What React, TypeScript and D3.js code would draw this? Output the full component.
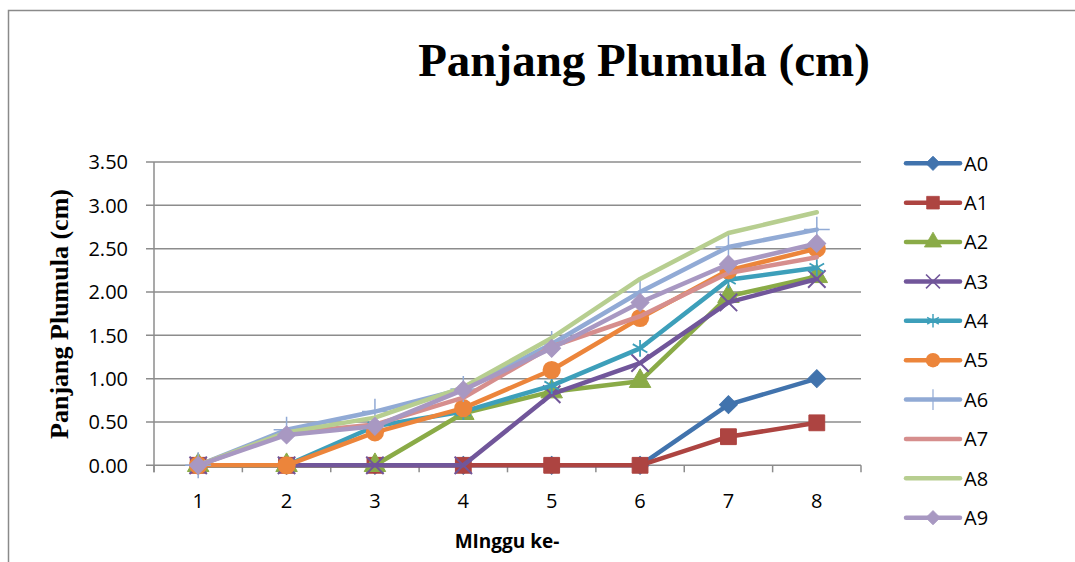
import * as d3 from 'd3';

const weeks = ['1', '2', '3', '4', '5', '6', '7', '8'];
const seriesNames = ['A0', 'A1', 'A2', 'A3', 'A4', 'A5', 'A6', 'A7', 'A8', 'A9'];
const A0 = [0, 0, 0, 0, 0, 0, 0.7, 1.0];
const A1 = [0, 0, 0, 0, 0, 0, 0.33, 0.49];
const A2 = [0, 0, 0, 0.6, 0.85, 0.97, 1.95, 2.18];
const A3 = [0, 0, 0, 0, 0.82, 1.18, 1.88, 2.15];
const A4 = [0, 0, 0.45, 0.62, 0.92, 1.35, 2.14, 2.28];
const A5 = [0, 0, 0.38, 0.66, 1.1, 1.7, 2.25, 2.5];
const A6 = [0, 0.41, 0.62, 0.88, 1.4, 2.0, 2.52, 2.72];
const A7 = [0, 0.37, 0.47, 0.78, 1.37, 1.72, 2.22, 2.4];
const A8 = [0, 0.38, 0.55, 0.9, 1.47, 2.15, 2.68, 2.92];
const A9 = [0, 0.35, 0.45, 0.87, 1.35, 1.88, 2.32, 2.56];
const yTicks = [0, 0.5, 1, 1.5, 2, 2.5, 3, 3.5];

const values = [A0, A1, A2, A3, A4, A5, A6, A7, A8, A9];
const colors = ['#4173ad', '#ad4441', '#8aab47', '#71569a', '#3d9fba', '#ec853b', '#91aad5', '#d68e8d', '#b7ce90', '#a898c2'];
const markers = ['diamond', 'square', 'triangle', 'x', 'asterisk', 'circle', 'plus', 'none', 'none', 'diamond'];

const W = 1075;
const H = 562;
const left = 154;
const right = 861;
const top = 162;
const bottom = 465.3;

const sans = '"Open Sans", "Noto Sans", sans-serif';
const serif = '"Liberation Serif", "DejaVu Serif", serif';

function Marker({ kind, color, x, y, scale = 1 }: { kind: string; color: string; x: number; y: number; scale?: number }) {
  const t = `translate(${x},${y}) scale(${scale})`;
  if (kind === 'diamond') {
    return <path transform={t + ' rotate(45)'} d={d3.symbol(d3.symbolSquare, 160)()!} fill={color} stroke={color} strokeWidth={1} />;
  }
  if (kind === 'square') {
    return <path transform={t} d={d3.symbol(d3.symbolSquare, 250)()!} fill={color} stroke={color} strokeWidth={1} />;
  }
  if (kind === 'triangle') {
    return <path transform={t} d={d3.symbol(d3.symbolTriangle, 200)()!} fill={color} stroke={color} strokeWidth={1} />;
  }
  if (kind === 'circle') {
    return <path transform={t} d={d3.symbol(d3.symbolCircle, 260)()!} fill={color} />;
  }
  if (kind === 'x') {
    return <path transform={t} d={d3.symbol(d3.symbolX, 200)()!} fill="none" stroke={color} strokeWidth={2} />;
  }
  if (kind === 'asterisk') {
    return <path transform={t} d={d3.symbol(d3.symbolAsterisk, 200)()!} fill="none" stroke={color} strokeWidth={1.8} />;
  }
  if (kind === 'plus') {
    return <path transform={t} d={d3.symbol(d3.symbolPlus, 220)()!} fill="none" stroke={color} strokeWidth={1.5} />;
  }
  return null;
}

export default function App() {
  const x = d3.scaleBand<string>().domain(weeks).range([left, right]);
  const y = d3.scaleLinear().domain([0, 3.5]).range([bottom, top]);
  const cx = (w: string) => (x(w) ?? 0) + x.bandwidth() / 2;
  const line = d3
    .line<number>()
    .x((_, i) => cx(weeks[i]))
    .y((d) => y(d));

  const bounds = [...weeks.map((w) => x(w) ?? 0), right];
  const legendY = d3.scalePoint<string>().domain(seriesNames).range([163.3, 517.7]);

  return (
    <>
      <style>{'body{margin:0}'}</style>
      <svg width={W} height={H} style={{ display: 'block', background: '#fff' }}>
        <path d={`M8.5,${H + 5}V10.5H${W + 5}`} fill="none" stroke="#8a8a8a" strokeWidth={1.5} />

        <text x={644} y={76} textAnchor="middle" fontFamily={serif} fontWeight="bold" fontSize={47}>
          Panjang Plumula (cm)
        </text>

        {yTicks.map((t) => (
          <g key={t}>
            <line x1={146} x2={right} y1={y(t)} y2={y(t)} stroke="#8c8c8c" strokeWidth={1.5} />
            <text x={128} y={y(t)} dy="0.36em" textAnchor="end" fontFamily={sans} fontSize={20}>
              {t.toFixed(2)}
            </text>
          </g>
        ))}
        <line x1={left} x2={left} y1={top} y2={bottom + 7} stroke="#8c8c8c" strokeWidth={1.5} />
        {bounds.map((b, i) => (
          <line key={i} x1={b} x2={b} y1={bottom} y2={bottom + 7} stroke="#8c8c8c" strokeWidth={1.5} />
        ))}
        {weeks.map((w) => (
          <text key={w} x={cx(w)} y={508} textAnchor="middle" fontFamily={sans} fontSize={20}>
            {w}
          </text>
        ))}

        <text x={507} y={548} textAnchor="middle" fontFamily={sans} fontWeight="bold" fontSize={19}>
          MInggu ke-
        </text>
        <text
          transform={`translate(68,314) rotate(-90)`}
          textAnchor="middle"
          fontFamily={serif}
          fontWeight="bold"
          fontSize={26}
        >
          Panjang Plumula (cm)
        </text>

        {values.map((vals, s) => (
          <g key={seriesNames[s]}>
            <path d={line(vals)!} fill="none" stroke={colors[s]} strokeWidth={4.5} strokeLinejoin="round" strokeLinecap="round" />
            {vals.map((v, i) => (
              <Marker key={i} kind={markers[s]} color={colors[s]} x={cx(weeks[i])} y={y(v)} />
            ))}
          </g>
        ))}

        {seriesNames.map((n, s) => {
          const ly = legendY(n) ?? 0;
          return (
            <g key={n}>
              <line x1={906} x2={960} y1={ly} y2={ly} stroke={colors[s]} strokeWidth={4.5} strokeLinecap="round" />
              <Marker kind={markers[s]} color={colors[s]} x={933} y={ly} scale={0.8} />
              <text x={964} y={ly} dy="0.36em" fontFamily={sans} fontSize={20}>
                {n}
              </text>
            </g>
          );
        })}
      </svg>
    </>
  );
}
